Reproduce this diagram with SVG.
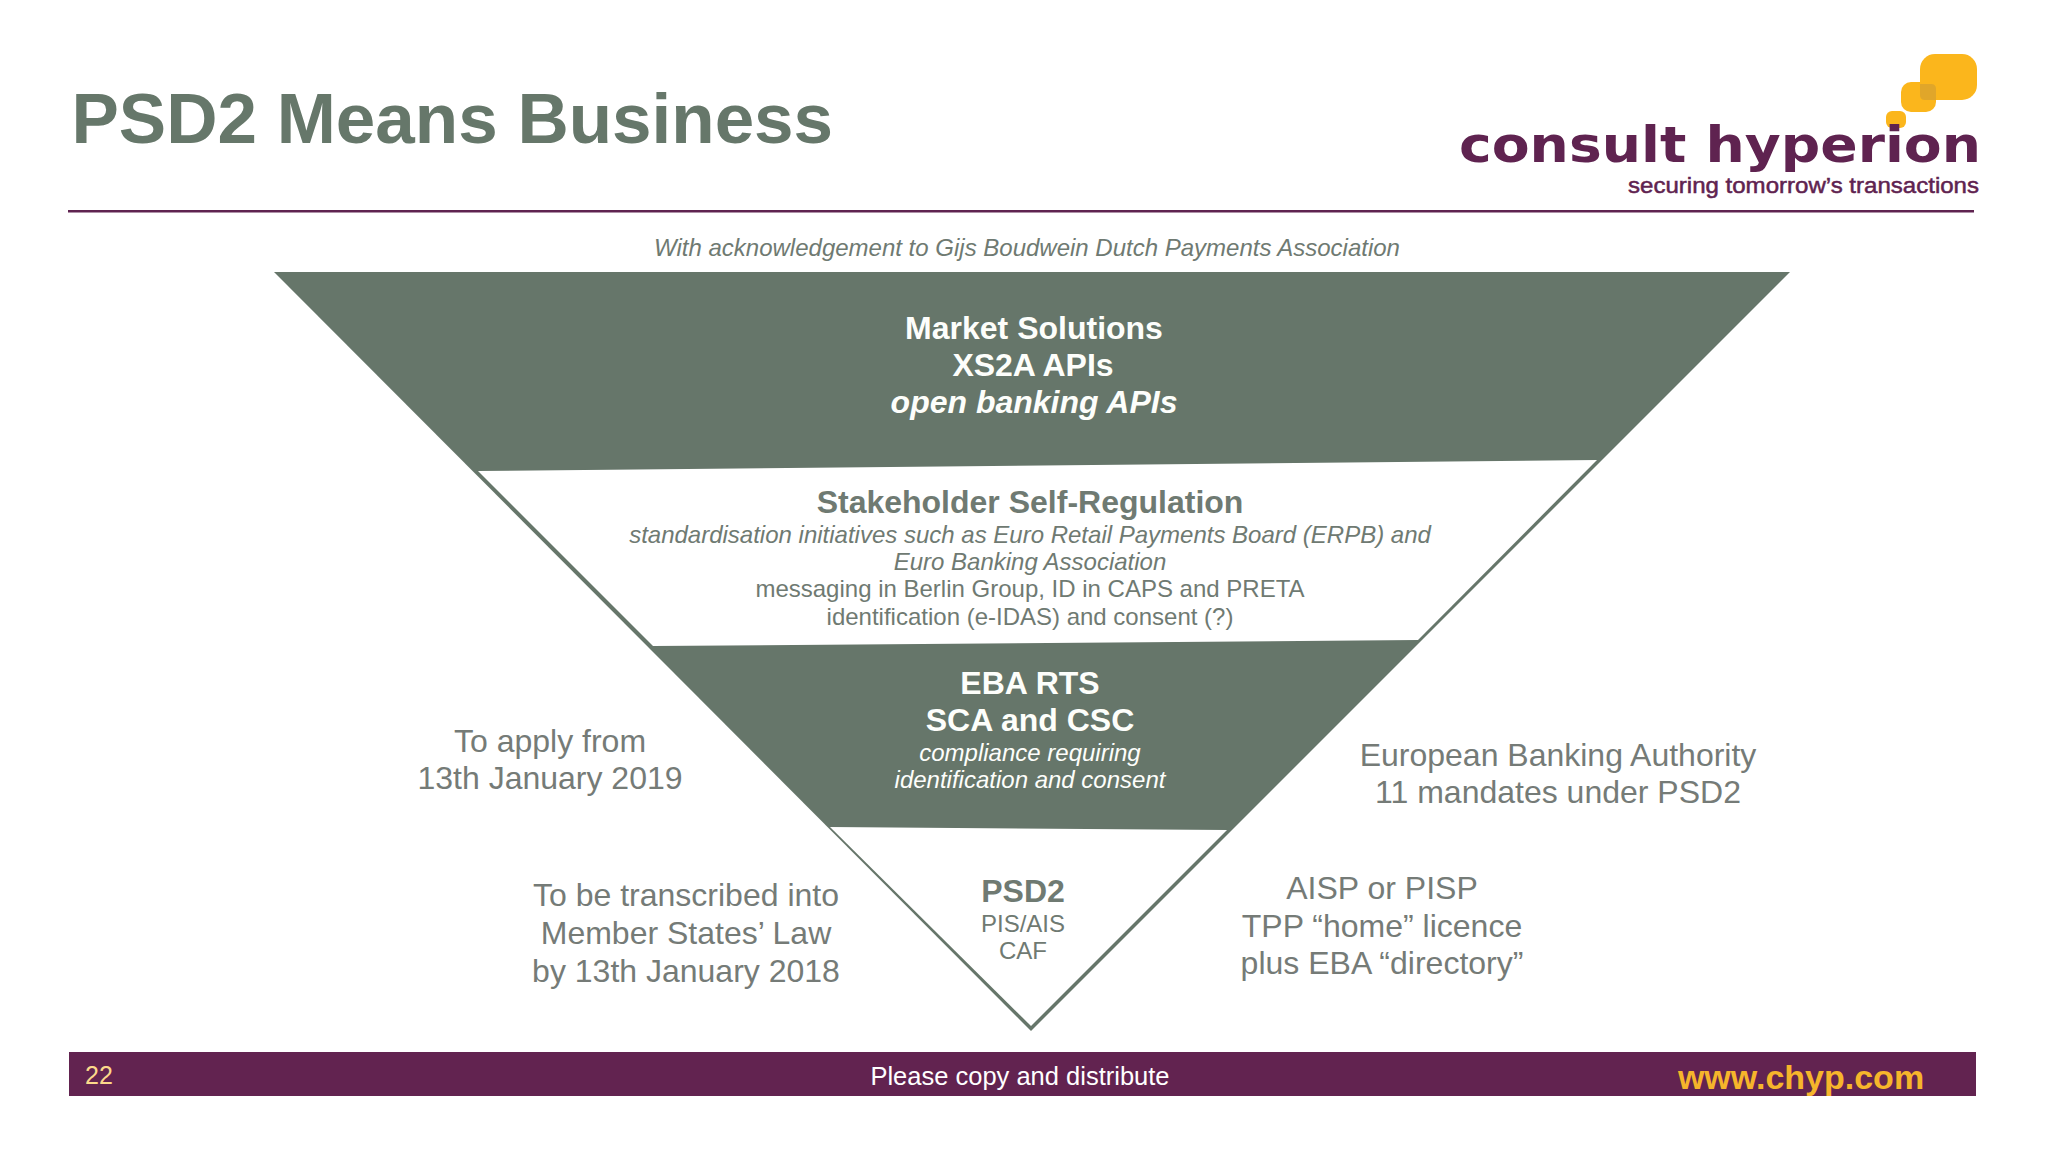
<svg xmlns="http://www.w3.org/2000/svg" width="2048" height="1152" viewBox="0 0 2048 1152">
<style>
text{font-family:"Liberation Sans",Arial,sans-serif;text-anchor:middle}
.g{fill:#66766a}.w{fill:#fdfefb}.t{fill:#6f7a72}
.h{font-weight:700;font-size:32px}
.s{font-size:24px}.i{font-style:italic}
.l{font-size:32px;fill:#757b77}
.e{fill:#fbb61c}
</style>
<rect width="2048" height="1152" fill="#fff"/>
<g id="header">
<text x="71.5" y="143" style="text-anchor:start;font-weight:700;font-size:71px;fill:#66776a">PSD2 Means Business</text>
<rect x="68" y="210" width="1906" height="2.5" fill="#5f2350"/>
</g>
<g id="logo">
<rect x="1920" y="54" width="57" height="46" rx="15" class="e"/>
<rect x="1901" y="82" width="35" height="30" rx="10" class="e"/>
<path d="M1920 84h11q5 0 5 5v11h-11q-5 0-5-5z" fill="#e0a62a"/>
<rect x="1886" y="111" width="20" height="17" rx="6" class="e"/>
<text x="1981" y="162" style="text-anchor:end;font-family:'DejaVu Sans',sans-serif;font-weight:700;font-size:50px;fill:#5f2350" textLength="522" lengthAdjust="spacingAndGlyphs">consult hyperion</text>
<text x="1979" y="193" style="text-anchor:end;font-size:22px;fill:#5f2350;stroke:#5f2350;stroke-width:.5" textLength="351" lengthAdjust="spacingAndGlyphs">securing tomorrow’s transactions</text>
</g>
<text id="credit" x="1027" y="256" class="i" style="font-size:24px;fill:#6f7a72">With acknowledgement to Gijs Boudwein Dutch Payments Association</text>
<g id="funnel">
<polygon class="g" points="274,272 1790,272 1031,1031"/>
</g>
<g id="market">
<text x="1034" y="339" class="h w">Market Solutions</text>
<text x="1033" y="376" class="h w">XS2A APIs</text>
<text x="1034" y="413" class="h i w">open banking APIs</text>
</g>
<g id="self-regulation">
<polygon fill="#fff" points="478,471 1597,460 1418,640 653,646"/>
<text x="1030" y="513" class="h t">Stakeholder Self-Regulation</text>
<text x="1030" y="543" class="s i t">standardisation initiatives such as Euro Retail Payments Board (ERPB) and</text>
<text x="1030" y="570" class="s i t">Euro Banking Association</text>
<text x="1030" y="597" class="s t">messaging in Berlin Group, ID in CAPS and PRETA</text>
<text x="1030" y="625" class="s t">identification (e-IDAS) and consent (?)</text>
</g>
<g id="eba-rts">
<text x="1030" y="694" class="h w">EBA RTS</text>
<text x="1030" y="731" class="h w">SCA and CSC</text>
<text x="1030" y="761" class="s i w">compliance requiring</text>
<text x="1030" y="788" class="s i w">identification and consent</text>
</g>
<g id="psd2">
<polygon fill="#fff" points="830,827 1227,830 1031,1026"/>
<text x="1023" y="902" class="h t">PSD2</text>
<text x="1023" y="932" class="s t">PIS/AIS</text>
<text x="1023" y="959" class="s t">CAF</text>
</g>
<g id="labels">
<text x="550" y="752" class="l">To apply from</text>
<text x="550" y="789" class="l">13th January 2019</text>
<text x="686" y="906" class="l">To be transcribed into</text>
<text x="686" y="944" class="l">Member States’ Law</text>
<text x="686" y="982" class="l">by 13th January 2018</text>
<text x="1558" y="766" class="l">European Banking Authority</text>
<text x="1558" y="803" class="l">11 mandates under PSD2</text>
<text x="1382" y="899" class="l">AISP or PISP</text>
<text x="1382" y="937" class="l">TPP “home” licence</text>
<text x="1382" y="974" class="l">plus EBA “directory”</text>
</g>
<g id="footer">
<rect x="69" y="1052" width="1907" height="44" fill="#622350"/>
<text x="85" y="1084" style="text-anchor:start;font-size:25px;fill:#fcd98b">22</text>
<text x="1020" y="1085" style="font-size:25.5px;fill:#fff">Please copy and distribute</text>
<text x="1801" y="1089" style="font-size:34px;font-weight:700;fill:#f6b52b">www.chyp.com</text>
</g>
</svg>
